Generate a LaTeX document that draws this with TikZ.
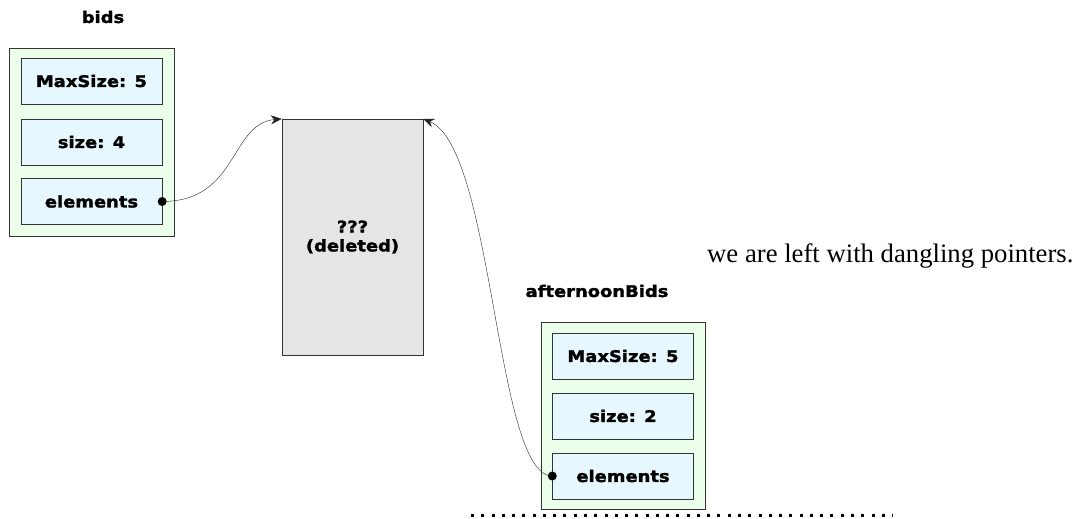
\documentclass[tikz,border=0pt]{standalone}
\usepackage{fontspec}
\setmainfont{Liberation Serif}
\newfontfamily\pixfont{DejaVu Sans}[FakeStretch=1.12, BoldFeatures={FakeBold=1.8}]
\usetikzlibrary{arrows.meta}

\begin{document}
\begin{tikzpicture}[x=1pt, y=-1pt,
  every node/.style={font=\pixfont\bfseries\fontsize{16}{19}\selectfont},
  objbox/.style={draw=black!80, fill=green!8, minimum width=165pt,
                 minimum height=188pt, inner sep=0pt},
  field/.style={draw=black!80, fill=cyan!10, minimum width=141pt,
                minimum height=46pt, inner sep=0pt},
  freed/.style={draw=black!80, fill=black!10, minimum width=141pt,
                minimum height=236pt, align=center, inner sep=0pt},
  arr/.style={-{Stealth[length=11pt, width=9pt]}, black!85},
  ptrdot/.style={circle, fill=black, minimum size=9pt, inner sep=0pt},
  sep/.style={line width=3pt, dash pattern=on 3pt off 7.27pt}
]
  \useasboundingbox (0,0) rectangle (1082,519);

  % first object
  \node (bidsname) at (103,17) {bids};
  \node[objbox] (bids) at (91.5,142) {};
  \node[field] (bmax) at (91.5,81) {MaxSize: 5};
  \node[field] (bsize) at (91.5,142) {size: 4};
  \node[field] (belem) at (91.5,201.5) {elements};

  % freed storage
  \node[freed] (del) at (352.5,237) {???\\(deleted)};

  % second object
  \node (aftname) at (597,291) {afternoonBids};
  \node[objbox, minimum width=164pt, minimum height=187pt] (aft) at (623,415.5) {};
  \node[field] (amax) at (623,356) {MaxSize: 5};
  \node[field] (asize) at (623,416) {size: 2};
  \node[field] (aelem) at (623,476) {elements};

  % pointers
  \node[ptrdot] (bdot) at (belem.east) {};
  \node[ptrdot] (adot) at (aelem.west) {};
  \draw[arr] (bdot.center) .. controls +(76,0) and +(-52,5) .. (del.north west);
  \draw[arr] (adot.center) .. controls +(-57,0) and +(71,30) .. (del.north east);

  \node[anchor=base west, inner sep=0pt, font=\rmfamily\fontsize{26.7}{30}\selectfont]
    (note) at (707,262) {we are left with dangling pointers.};

  \coordinate (sepl) at (471,515.5);
  \coordinate (sepr) at (893,515.5);
  \draw[sep] (sepl) -- (sepr);
\end{tikzpicture}
\end{document}
